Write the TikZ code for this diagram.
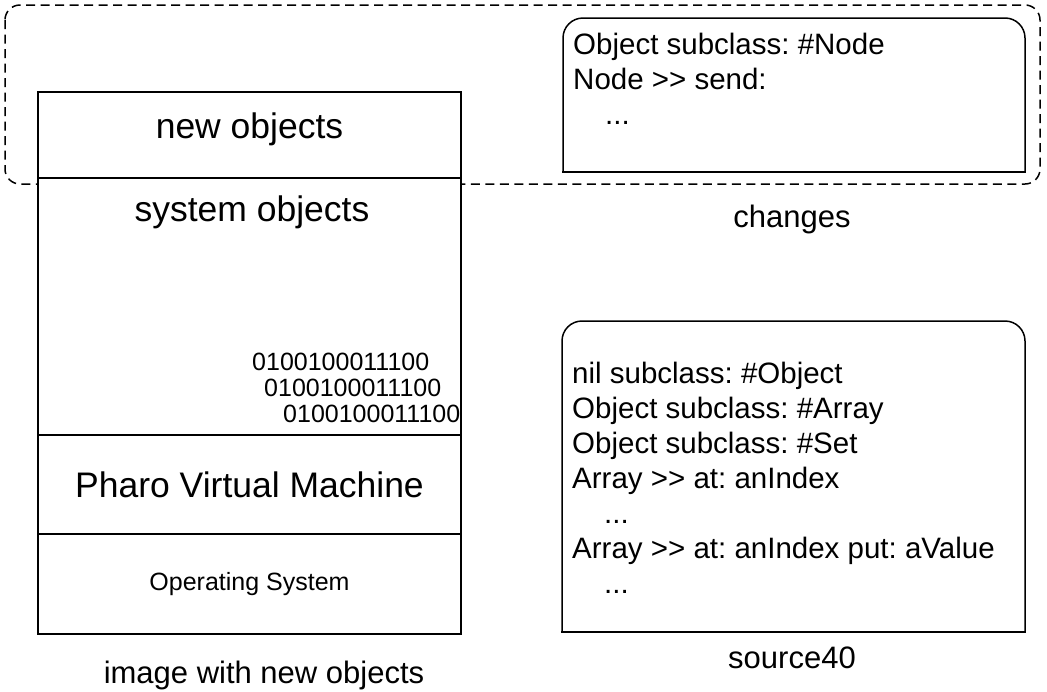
\documentclass[tikz,border=0pt]{standalone}
\usepackage{fontspec}
\setmainfont{Liberation Sans}
\usepackage{tikz}
\usetikzlibrary{positioning}
\frenchspacing

\begin{document}
\begin{tikzpicture}[x=1pt, y=-1pt,
    layer/.style={draw, fill=white, line width=1.5pt, outer sep=0pt,
                  inner sep=0pt, minimum width=423pt},
    big/.style={font=\fontsize{35.5}{42}\selectfont},
    caption/.style={font=\fontsize{31}{37}\selectfont},
    code/.style={align=left, inner sep=0pt, anchor=north west,
                 font=\fontsize{29.5}{35}\selectfont},
    pane/.style={minimum width=462pt, outer sep=0pt, inner sep=0pt},
    paneline/.style={line width=1.5pt, line cap=rect}]
    \useasboundingbox (0,0) rectangle (1047,691);
    % Dashed group round the changes
    \draw[line width=1.5pt, dash pattern=on 9pt off 5.5pt, rounded corners=15pt]
        (5,5) rectangle (1040,184);
    % Image stack
    \node[layer, big, minimum height=86pt, text depth=19pt] (newobj) at (249.5,135)
        {new objects};
    \node[layer, minimum height=257pt, below=0pt of newobj] (sysobj) {};
    \node[layer, big, minimum height=99pt, below=0pt of sysobj] (pvm)
        {Pharo Virtual Machine};
    \node[layer, minimum height=100pt, below=0pt of pvm] (os)
        {\fontsize{25}{29}\selectfont Operating System};
    \node[big, anchor=north, inner sep=0pt] (systxt) at (252,196) {system objects};
    \node[align=left, inner sep=0pt, anchor=north west,
          font=\fontsize{25}{26}\selectfont] (bits) at (252,353)
        {0100100011100\\ \hspace*{12pt}0100100011100\\ \hspace*{31pt}0100100011100};
    \node[caption] (imglbl) at (264,675) {image with new objects};
    % Changes pane
    \node[pane, minimum height=154pt] (chg) at (794,95) {};
    \draw[paneline, rounded corners=20pt]
        (chg.south west) -- (chg.north west) -- (chg.north east) -- (chg.south east);
    \draw[paneline] (chg.south west) -- (chg.south east);
    \node[code] (chgcode) at (573,33)
        {Object subclass: \#Node\\ Node >{}> send:\\ \hspace*{32pt}...};
    \node[caption] (chglbl) at (792,219) {changes};
    % Source pane
    \node[pane, minimum width=463pt, minimum height=311pt] (src) at (793.5,476.5) {};
    \draw[paneline, rounded corners=20pt]
        (src.south west) -- (src.north west) -- (src.north east) -- (src.south east);
    \draw[paneline] (src.south west) -- (src.south east);
    \node[code] (srccode) at (572,362)
        {nil subclass: \#Object\\ Object subclass: \#Array\\ Object subclass: \#Set\\
         Array >{}> at: anIndex\\ \hspace*{32pt}...\\
         Array >{}> at: anIndex put: aValue\\ \hspace*{32pt}...};
    \node[caption] (srclbl) at (792,658) {source40};
\end{tikzpicture}
\end{document}
